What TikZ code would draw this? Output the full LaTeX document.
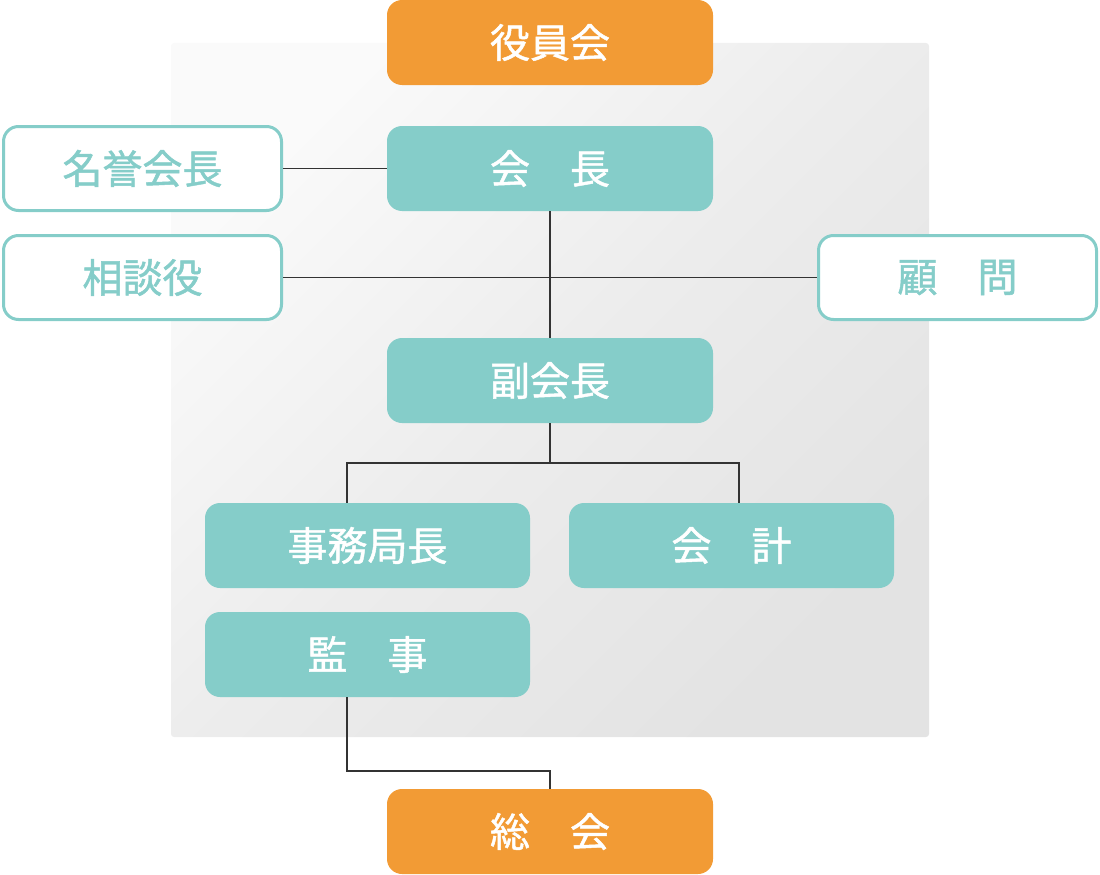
\documentclass[tikz,border=0pt]{standalone}
\usepackage{fontspec}
\setmainfont{Noto Sans CJK JP}[FakeBold=1.2]
\definecolor{orgc}{HTML}{F29B35}
\definecolor{teal2}{HTML}{85CDC9}
\definecolor{linec}{HTML}{333333}
\definecolor{bglight}{HTML}{FAFAFA}
\definecolor{bgdark}{HTML}{E3E3E3}
\begin{document}
\begin{tikzpicture}[x=1pt,y=-1pt,
  box/.style={rectangle,rounded corners=15pt,inner sep=0pt,font=\fontsize{40}{40}\selectfont},
  orangebox/.style={box,fill=orgc,text=white,minimum width=326pt,minimum height=85pt},
  tealbox/.style={box,fill=teal2,text=white,minimum width=326pt,minimum height=85pt},
  outlinebox/.style={box,fill=white,draw=teal2,line width=3pt,text=teal2,minimum width=278pt,minimum height=84pt},
  conn/.style={draw=linec,line width=1.8pt}]
\useasboundingbox (0,0) rectangle (1100,875);
\shade[rounded corners=3pt,top color=bglight,bottom color=bgdark,middle color=bgdark!60!bglight,shading angle=45] (171,43) rectangle (929,737);
% nodes
\node[orangebox] (yakuin) at (550,42.5) {役員会};
\node[tealbox] (kaicho) at (550,168.5) {会　長};
\node[outlinebox] (meiyo) at (142.5,168.5) {名誉会長};
\node[outlinebox] (sodan) at (142.5,277.5) {相談役};
\node[outlinebox] (komon) at (957.5,277.5) {顧　問};
\node[tealbox] (fuku) at (550,380.5) {副会長};
\node[tealbox,minimum width=325pt] (jimu) at (367.5,545.5) {事務局長};
\node[tealbox,minimum width=325pt] (kaikei) at (731.5,545.5) {会　計};
\node[tealbox,minimum width=325pt] (kanji) at (367.5,654.5) {監　事};
\node[orangebox] (sokai) at (550,831.5) {総　会};
% connector coordinates
\coordinate (jl) at (347,463);
\coordinate (jr) at (739,463);
\coordinate (kl) at (347,771);
% connectors
\path[conn] (meiyo.east) -- (meiyo.east -| kaicho.west);
\path[conn] (sodan.east) -- (komon.west);
\path[conn] (kaicho.south) -- (fuku.north);
\path[conn] (fuku.south) -- (fuku.south |- jl) -- (jl) -- (jl |- jimu.north);
\path[conn] (fuku.south |- jr) -- (jr) -- (jr |- kaikei.north);
\path[conn] (kl |- kanji.south) -- (kl) -- (kl -| sokai.north) -- (sokai.north);
\end{tikzpicture}
\end{document}
